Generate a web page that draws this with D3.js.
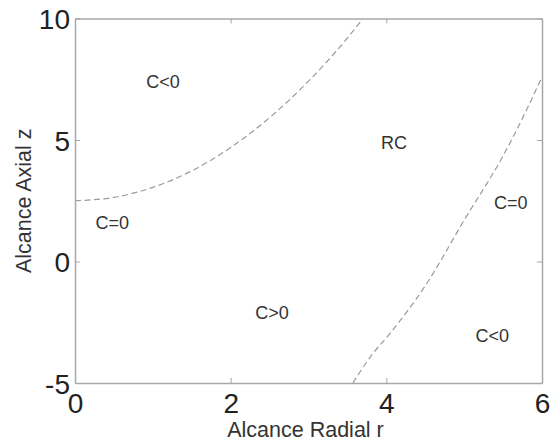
<!DOCTYPE html>
<html>
<head>
<meta charset="utf-8">
<script src="https://cdn.jsdelivr.net/npm/d3@7"></script>
<style>
  html, body { margin: 0; padding: 0; background: #fff; }
  svg { display: block; font-family: "Liberation Sans", Arial, Helvetica, sans-serif; }
</style>
</head>
<body>
<svg id="chart" width="551" height="445"></svg>
<script>
// Boundary curves C = 0 in the (r, z) plane
const innerR = [0, 0.5, 1, 1.5, 2, 2.5, 3, 3.5, 3.7];
const innerZ = [2.5, 2.64, 3.05, 3.73, 4.69, 5.92, 7.42, 9.2, 10];

const outerR = [3.57, 3.8, 4.05, 4.5, 5.0, 5.5, 5.75, 6.0];
const outerZ = [-5, -3.9, -2.95, -1.0, 1.7, 4.35, 5.9, 7.6];

// Region annotations
const regionText = ["C<0", "RC", "C=0", "C<0", "C=0", "C>0"];
const regionR = [1.13, 4.10, 5.60, 5.36, 0.48, 2.53];
const regionZ = [7.39, 4.90, 2.43, -3.05, 1.60, -2.08];

// Axis ticks
const xTicks = [0, 2, 4, 6];
const yTicks = [-5, 0, 5, 10];
const xLabel = "Alcance Radial r";
const yLabel = "Alcance Axial z";

const W = 551, H = 445;
const margin = { left: 75, right: 9, top: 18.5, bottom: 62 };
const iw = W - margin.left - margin.right;
const ih = H - margin.top - margin.bottom;

const svg = d3.select("#chart");
const g = svg.append("g").attr("transform", `translate(${margin.left},${margin.top})`);

const x = d3.scaleLinear().domain([0, 6]).range([0, iw]);
const y = d3.scaleLinear().domain([-5, 10]).range([ih, 0]);

const axisColor = "#a8a8a8";
const tickLen = 5;
const plainNum = d => String(d);   // hyphen-minus, as plotted by the original tool

// Clip curves to the plot box
g.append("clipPath").attr("id", "plotClip")
  .append("rect").attr("width", iw).attr("height", ih);

// Dashed boundary curves
const line = d3.line().x(d => x(d[0])).y(d => y(d[1])).curve(d3.curveMonotoneX);
[[innerR, innerZ], [outerR, outerZ]].forEach(([rs, zs]) => {
  g.append("path")
    .datum(rs.map((r, i) => [r, zs[i]]))
    .attr("clip-path", "url(#plotClip)")
    .attr("fill", "none")
    .attr("stroke", "#9a9a9a")
    .attr("stroke-width", 1.2)
    .attr("stroke-dasharray", "6,3.5")
    .attr("d", line);
});

// Axes with inward ticks on all four sides
const styleAxis = sel => {
  sel.select(".domain").attr("stroke", axisColor).attr("stroke-width", 1.5);
  sel.selectAll(".tick line").attr("stroke", axisColor).attr("stroke-width", 1);
};

const axisB = g.append("g").attr("transform", `translate(0,${ih})`)
  .call(d3.axisBottom(x).tickValues(xTicks).tickSizeInner(-tickLen).tickSizeOuter(0).tickPadding(10).tickFormat(plainNum));
const axisT = g.append("g")
  .call(d3.axisTop(x).tickValues(xTicks).tickSizeInner(-tickLen).tickSizeOuter(0).tickFormat(""));
const axisL = g.append("g")
  .call(d3.axisLeft(y).tickValues(yTicks).tickSizeInner(-tickLen).tickSizeOuter(0).tickPadding(5).tickFormat(plainNum));
const axisR = g.append("g").attr("transform", `translate(${iw},0)`)
  .call(d3.axisRight(y).tickValues(yTicks).tickSizeInner(-tickLen).tickSizeOuter(0).tickFormat(""));
[axisB, axisT, axisL, axisR].forEach(styleAxis);

axisB.selectAll(".tick text")
  .attr("font-size", 28).attr("fill", "#222").attr("dy", "0.71em")
  .attr("font-family", "Liberation Sans, Arial, sans-serif");
axisL.selectAll(".tick text")
  .attr("font-size", 28).attr("fill", "#222").attr("dy", "0.36em")
  .attr("font-family", "Liberation Sans, Arial, sans-serif");

// Region labels
g.selectAll("text.region")
  .data(regionText)
  .join("text")
  .attr("class", "region")
  .attr("x", (d, i) => x(regionR[i]))
  .attr("y", (d, i) => y(regionZ[i]))
  .attr("dy", "0.36em")
  .attr("text-anchor", "middle")
  .attr("font-size", 18)
  .attr("fill", "#333")
  .text(d => d);

// Axis titles
svg.append("text")
  .attr("x", margin.left + x(3) - 3)
  .attr("y", 437)
  .attr("text-anchor", "middle")
  .attr("font-size", 21.5)
  .attr("fill", "#333")
  .text(xLabel);

svg.append("text")
  .attr("transform", `translate(31,${margin.top + y(2.5)}) rotate(-90)`)
  .attr("text-anchor", "middle")
  .attr("font-size", 21.5)
  .attr("fill", "#333")
  .text(yLabel);
</script>
</body>
</html>
